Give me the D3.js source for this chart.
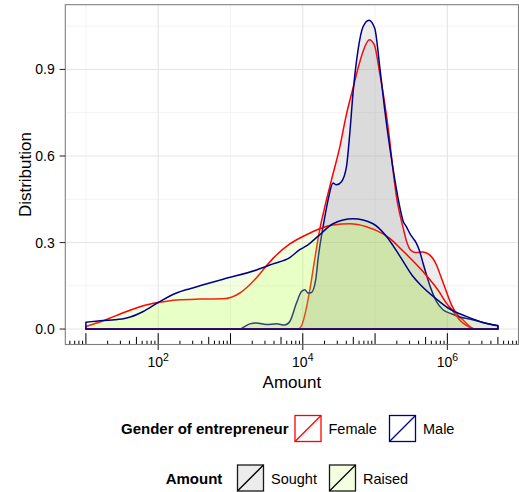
<!DOCTYPE html>
<html><head><meta charset="utf-8">
<script src="https://cdn.jsdelivr.net/npm/d3@7/dist/d3.min.js"></script>
<style>
body{margin:0;background:#fff;}
svg{display:block;}
text{font-family:"Liberation Sans",Arial,Helvetica,sans-serif;}
</style>
</head><body>
<svg id="c" width="519" height="492"></svg>
<script>
// ---- data: [amount, density] ----
const femaleSought = [[10,0],[8510,0],[9550,0.01],[10700,0.05],[12600,0.14],[14800,0.25],[17000,0.34],[20000,0.42],[25100,0.52],[32400,0.63],[39800,0.74],[50100,0.84],[57500,0.90],[67600,0.96],[83200,1.003],[97700,0.985],[115000,0.892],[135000,0.788],[158000,0.662],[178000,0.546],[200000,0.45],[219000,0.40],[245000,0.35],[269000,0.309],[316000,0.272],[372000,0.265],[457000,0.267],[569000,0.257],[705000,0.223],[826000,0.177],[968000,0.13],[1140000,0.084],[1330000,0.055],[1640000,0.032],[2030000,0.009],[2400000,0],[5000000,0]];
const maleSought = [[10,0],[1350,0],[1500,0.006],[1850,0.018],[2290,0.021],[3150,0.016],[4330,0.018],[5640,0.014],[6610,0.026],[8180,0.09],[9590,0.13],[10700,0.136],[11800,0.125],[13200,0.127],[15100,0.171],[16300,0.245],[19100,0.355],[22400,0.448],[26200,0.506],[29200,0.50],[34300,0.511],[40200,0.563],[44700,0.679],[49500,0.817],[58100,0.967],[68100,1.048],[82400,1.071],[98900,1.043],[116000,0.91],[136000,0.76],[159000,0.633],[187000,0.52],[219000,0.425],[244000,0.375],[271000,0.355],[301000,0.333],[335000,0.315],[372000,0.298],[414000,0.27],[460000,0.229],[569000,0.153],[705000,0.096],[869000,0.067],[1140000,0.053],[1480000,0.042],[2030000,0.035],[3100000,0.023],[5000000,0.012]];
const femaleRaised = [[10,0.009],[17.4,0.029],[36.6,0.061],[62.1,0.081],[100,0.092],[179,0.101],[377,0.104],[791,0.105],[1350,0.125],[2290,0.178],[3160,0.22],[3880,0.245],[6610,0.295],[11200,0.327],[16800,0.347],[26200,0.361],[44700,0.365],[75900,0.355],[129000,0.33],[158000,0.315],[219000,0.282],[269000,0.26],[457000,0.2],[776000,0.128],[968000,0.09],[1200000,0.062],[1550000,0.026],[2040000,0.006],[2510000,0],[5000000,0]];
const maleRaised = [[10,0.024],[17.4,0.03],[25.1,0.032],[36.6,0.038],[62.1,0.061],[100,0.092],[179,0.125],[274,0.14],[377,0.15],[791,0.173],[2290,0.205],[3160,0.218],[3880,0.226],[6610,0.248],[9080,0.275],[11200,0.288],[16800,0.325],[26200,0.365],[49500,0.382],[93800,0.365],[144000,0.321],[219000,0.254],[335000,0.182],[430000,0.152],[705000,0.104],[1020000,0.073],[1830000,0.044],[3100000,0.023],[5000000,0.011]];

const yTicks = [0, 0.3, 0.6, 0.9];
const yTickLabels = ["0.0", "0.3", "0.6", "0.9"];
const yMinor = [0.15, 0.45, 0.75, 1.05];
const xMajor = [1e2, 1e4, 1e6];
const xTickExp = ["2", "4", "6"];
const xMinor = [1e1, 1e3, 1e5];
const genderLevels = ["Female", "Male"];
const genderColors = ["#ff0000", "#00008b"];
const amountLevels = ["Sought", "Raised"];
const amountFills = ["#7f7f7f", "#adff2f"];

// ---- layout ----
const svg = d3.select("#c");
const P = {l: 65.3, r: 518.5, t: 4.7, b: 344.5};
const all = [femaleSought, maleSought, femaleRaised, maleRaised];
const xs = all.flat().map(d => d[0]);
const lo = Math.log10(d3.min(xs)), hi = Math.log10(d3.max(xs));
const px = (hi - lo) * 0.05;
const x = d3.scaleLog().domain([Math.pow(10, lo - px), Math.pow(10, hi + px)]).range([P.l, P.r]);
const ymax = d3.max(all.flat(), d => d[1]);
const y = d3.scaleLinear().domain([-ymax * 0.05, ymax * 1.05]).range([P.b, P.t]);

svg.append("defs").append("clipPath").attr("id", "clip")
  .append("rect").attr("x", P.l).attr("y", P.t).attr("width", P.r - P.l).attr("height", P.b - P.t);

// grid
const grid = svg.append("g");
grid.selectAll(".ym").data(yMinor).join("line")
  .attr("x1", P.l).attr("x2", P.r).attr("y1", d => y(d)).attr("y2", d => y(d))
  .attr("stroke", "#f3f3f3").attr("stroke-width", 1);
grid.selectAll(".xm").data(xMinor).join("line")
  .attr("y1", P.t).attr("y2", P.b).attr("x1", d => x(d)).attr("x2", d => x(d))
  .attr("stroke", "#f3f3f3").attr("stroke-width", 1);
grid.selectAll(".yM").data(yTicks).join("line")
  .attr("x1", P.l).attr("x2", P.r).attr("y1", d => y(d)).attr("y2", d => y(d))
  .attr("stroke", "#e5e5e5").attr("stroke-width", 1.1);
grid.selectAll(".xM").data(xMajor).join("line")
  .attr("y1", P.t).attr("y2", P.b).attr("x1", d => x(d)).attr("x2", d => x(d))
  .attr("stroke", "#e5e5e5").attr("stroke-width", 1.1);

// densities
const area = d3.area().x(d => x(d[0])).y0(y(0)).y1(d => y(d[1])).curve(d3.curveMonotoneX);
const layers = [
  {data: femaleSought, g: 0, a: 0},
  {data: maleSought, g: 1, a: 0},
  {data: femaleRaised, g: 0, a: 1},
  {data: maleRaised, g: 1, a: 1}
];
const plot = svg.append("g").attr("clip-path", "url(#clip)");
plot.selectAll("path").data(layers).join("path")
  .attr("d", d => area(d.data))
  .attr("fill", d => amountFills[d.a]).attr("fill-opacity", 0.15)
  .attr("stroke", d => genderColors[d.g]).attr("stroke-width", 1.5)
  .attr("stroke-linejoin", "round");

// log ticks (inside bottom)
const lt = [];
for (let e = 0; e <= 7; e++) for (let k = 1; k <= 9; k++) {
  const v = k * Math.pow(10, e);
  if (v >= x.domain()[0] && v <= x.domain()[1]) lt.push({v, len: k === 1 ? 11.3 : (k === 5 ? 7.6 : 3.8)});
}
svg.append("g").selectAll("line").data(lt).join("line")
  .attr("x1", d => x(d.v)).attr("x2", d => x(d.v))
  .attr("y1", P.b).attr("y2", d => P.b - d.len)
  .attr("stroke", "#000").attr("stroke-width", 1);

// panel border
svg.append("rect").attr("x", P.l).attr("y", P.t).attr("width", P.r - P.l).attr("height", P.b - P.t)
  .attr("fill", "none").attr("stroke", "#7f7f7f").attr("stroke-width", 1.1);

// y axis
const ya = svg.append("g");
ya.selectAll("line").data(yTicks).join("line")
  .attr("x1", P.l - 5.7).attr("x2", P.l).attr("y1", d => y(d)).attr("y2", d => y(d))
  .attr("stroke", "#333").attr("stroke-width", 1.1);
ya.selectAll("text").data(yTicks).join("text")
  .attr("x", P.l - 10.5).attr("y", d => y(d) + 5)
  .attr("text-anchor", "end").attr("font-size", 14).attr("fill", "#000")
  .text((d, i) => yTickLabels[i]);

// x axis
const xa = svg.append("g");
xa.selectAll("line").data(xMajor).join("line")
  .attr("x1", d => x(d)).attr("x2", d => x(d)).attr("y1", P.b).attr("y2", P.b + 5.5)
  .attr("stroke", "#333").attr("stroke-width", 1.1);
const xt = xa.selectAll("text").data(xMajor).join("text")
  .attr("x", d => x(d)).attr("y", 367.3)
  .attr("text-anchor", "middle").attr("font-size", 14).attr("fill", "#000");
xt.append("tspan").text("10");
xt.append("tspan").attr("dy", -6.5).attr("font-size", 10.5).text((d, i) => xTickExp[i]);

// axis titles
svg.append("text").attr("x", (P.l + P.r) / 2).attr("y", 388.3)
  .attr("text-anchor", "middle").attr("font-size", 17).text("Amount");
svg.append("text").attr("transform", `translate(31,${(P.t + P.b) / 2}) rotate(-90)`)
  .attr("text-anchor", "middle").attr("font-size", 17).text("Distribution");

// legends
function legendRow(title, titleX, cy, levels, keyXs, keyStroke, keyFill, diagStroke) {
  const g = svg.append("g");
  g.append("text").attr("x", titleX).attr("y", cy + 5.5)
    .attr("font-size", 15).attr("font-weight", "bold").text(title);
  levels.forEach((lab, i) => {
    const kx = keyXs[i], ky = cy - 13;
    g.append("rect").attr("x", kx).attr("y", ky).attr("width", 26).attr("height", 26)
      .attr("fill", keyFill(i)).attr("stroke", keyStroke(i)).attr("stroke-width", 1.3);
    g.append("line").attr("x1", kx).attr("y1", ky + 26).attr("x2", kx + 26).attr("y2", ky)
      .attr("stroke", diagStroke(i)).attr("stroke-width", 1.3);
    g.append("text").attr("x", kx + 33.5).attr("y", cy + 5.5)
      .attr("font-size", 14.5).text(lab);
  });
}
legendRow("Gender of entrepreneur", 121, 428.5, genderLevels, [295, 389.5],
  i => genderColors[i], i => "#ffffff", i => genderColors[i]);
legendRow("Amount", 165.7, 478, amountLevels, [237.5, 329.5],
  i => "#1a1a1a",
  i => d3.interpolateRgb("#ffffff", amountFills[i])(0.15),
  i => "#000");
</script>
</body></html>
